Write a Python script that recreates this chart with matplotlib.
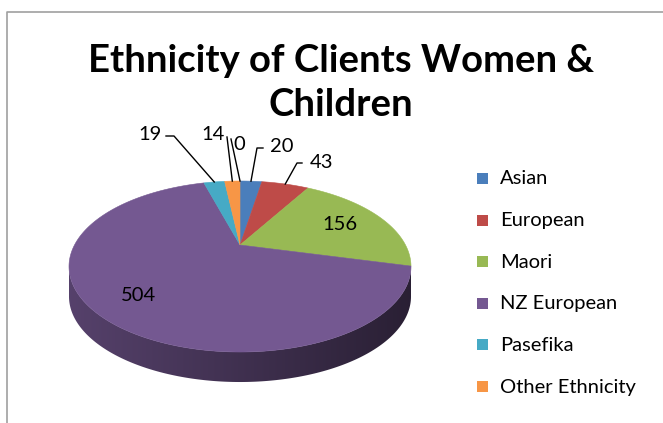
import numpy as np
import matplotlib
matplotlib.use("Agg")
import matplotlib.pyplot as plt
from matplotlib.patches import Polygon, Rectangle

# data
categories = ["Asian", "European", "Maori", "NZ European", "Pasefika", "Other Ethnicity", ""]
values = [20, 43, 156, 504, 19, 14, 0]
colors = ["#4a7ebb", "#be4b48", "#98b954", "#745891", "#46aac5", "#f79646", "#999999"]
title = "Ethnicity of Clients Women &\nChildren"

FONT = "Lato"

# pie geometry in pixels
CX, CY = 240, 245
A, B, K = 165.5, 80.1, 0.2515
DEPTH = 30


def proj(t, r=1.0):
    u = r * np.cos(t)
    v = r * np.sin(t)
    w = 1 + K * v
    return CX + A * u / w, CY - B * v / w


fig = plt.figure(figsize=(6.63, 4.23), dpi=100)
ax = fig.add_axes([0, 0, 1, 1])
ax.set_xlim(0, 663)
ax.set_ylim(423, 0)
ax.axis("off")

# chart frame
ax.plot([7, 7, 670], [430, 12, 12], color="#a0a0a0", lw=1.2)

total = sum(values)
bounds = np.cumsum([0] + values) / total * 2 * np.pi
starts = np.pi / 2 - bounds[:-1]
ends = np.pi / 2 - bounds[1:]

# silhouette angles of the side wall
t_left = np.pi + np.arcsin(K)
t_right = 2 * np.pi - np.arcsin(K)
xl, _ = proj(t_left)
xr, _ = proj(t_right)

# side walls, shaded with a horizontal gradient
for i, v in enumerate(values):
    if v == 0:
        continue
    a0, a1 = ends[i] % (2 * np.pi), starts[i] % (2 * np.pi)
    if a1 <= a0:
        a1 += 2 * np.pi
    lo, hi = max(a0, t_left), min(a1, t_right)
    if hi <= lo:
        continue
    ts = np.linspace(lo, hi, 200)
    top = [proj(t) for t in ts]
    bot = [(x, y + DEPTH) for x, y in top[::-1]]
    side = Polygon(top + bot, closed=True, facecolor="none", edgecolor="none")
    ax.add_patch(side)
    rgb = np.array(matplotlib.colors.to_rgb(colors[i]))
    f = np.linspace(0.74, 0.36, 256)
    grad = np.clip(f[None, :, None] * rgb[None, None, :], 0, 1)
    img = ax.imshow(grad, extent=[xl, xr, 400, 150], aspect="auto", zorder=1,
                    interpolation="bilinear")
    img.set_clip_path(side)

# top faces
for i, v in enumerate(values):
    if v == 0:
        continue
    ts = np.linspace(starts[i], ends[i], max(int(abs(ends[i] - starts[i]) * 80), 8))
    pts = [(CX, CY)] + [proj(t) for t in ts]
    ax.add_patch(Polygon(pts, closed=True, facecolor=colors[i], edgecolor=colors[i],
                         lw=0.4, zorder=2))

ax.set_xlim(0, 663)
ax.set_ylim(423, 0)

# inside labels
for i, rr in [(2, 0.7), (3, 0.76)]:
    mid = (starts[i] + ends[i]) / 2
    x, y = proj(mid, rr)
    ax.text(x, y, str(values[i]), ha="center", va="center", fontsize=14.5, family=FONT, zorder=3)

# outside labels with leader lines
outside = {4: ((150, 134), [(166, 136), (174, 136)]),
           5: ((213, 135), [(227, 137)]),
           6: ((239, 144), [(231, 139)]),
           0: ((282, 146), [(263, 148), (257, 148)]),
           1: ((322, 163), [(302, 163), (297, 163)])}
for i, (pos, path) in outside.items():
    mid = (starts[i] + ends[i]) / 2
    ex, ey = proj(mid)
    xs = [p[0] for p in path] + [ex]
    ys = [p[1] for p in path] + [ey]
    ax.plot(xs, ys, color="black", lw=1, zorder=3)
    ax.text(pos[0], pos[1], str(values[i]), ha="center", va="center", fontsize=14.5,
            family=FONT, zorder=3)

# title
ax.text(341, 83, title, ha="center", va="center", fontsize=27.5, fontweight="bold",
        family=FONT, linespacing=1.34)

# legend
for k, name in enumerate(categories[:6]):
    y = 179 + k * 41.6
    ax.add_patch(Rectangle((477, y - 6), 11, 11, facecolor=colors[k], edgecolor="none"))
    ax.text(500, y, name, ha="left", va="center", fontsize=14.5, family=FONT)

fig.savefig("out.png", dpi=100)
